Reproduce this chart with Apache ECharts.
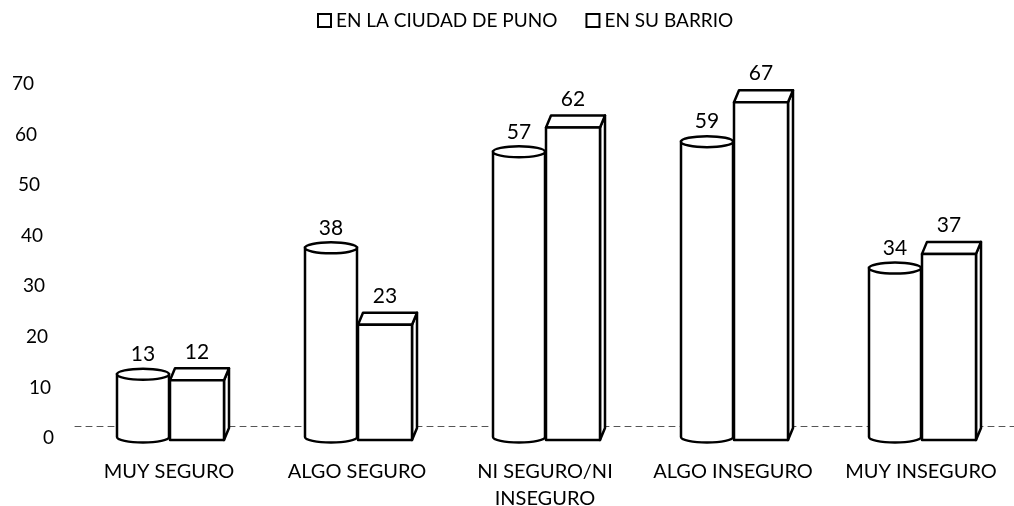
<!DOCTYPE html>
<html><head><meta charset="utf-8">
<script src="https://cdn.jsdelivr.net/npm/echarts@6/dist/echarts.min.js"></script>
<style>html,body{margin:0;padding:0;background:#fff}#c{width:1014px;height:506px}</style>
</head><body><div id="c"></div>
<script>
const categories = ['MUY SEGURO', 'ALGO SEGURO', 'NI SEGURO/NI\nINSEGURO', 'ALGO INSEGURO', 'MUY INSEGURO'];
const seriesNames = ['EN LA CIUDAD DE PUNO', 'EN SU BARRIO'];
const ciudadValues = [13, 38, 57, 59, 34];
const barrioValues = [12, 23, 62, 67, 37];
const yTicks = [0, 10, 20, 30, 40, 50, 60, 70];

const FONT = 'Lato, "Open Sans", sans-serif';
const chart = echarts.init(document.getElementById('c'), null, {renderer: 'canvas'});

function cylinder(params, api) {
  const i = api.value(0), v = api.value(1);
  const top = api.coord([i, v]), base = api.coord([i, 0]);
  const rx = 26, ry = 5.5;
  const cx = top[0] - rx;
  const l = cx - rx, r = cx + rx;
  const t = top[1] + 2, b = base[1] - 1;
  const body = `M${l},${t} L${l},${b} A${rx},${ry} 0 0 0 ${r},${b} L${r},${t} Z`;
  const cap = `M${l},${t} A${rx},${ry} 0 0 1 ${r},${t} A${rx},${ry} 0 0 1 ${l},${t} Z`;
  return {
    type: 'group',
    children: [
      {type: 'path', shape: {pathData: body}, style: {fill: '#fff', stroke: '#000', lineWidth: 2.5}},
      {type: 'path', shape: {pathData: cap}, style: {fill: '#fff', stroke: '#000', lineWidth: 2.5}},
      {type: 'text', style: {text: String(v), x: cx, y: t - ry - 4, align: 'center', verticalAlign: 'bottom',
        fontSize: 21, fontFamily: FONT, fill: '#000'}}
    ]
  };
}

function box(params, api) {
  const i = api.value(0), v = api.value(1);
  const top = api.coord([i, v]), base = api.coord([i, 0]);
  const w = 54, dx = 5, dy = -12;
  const l = top[0] + 1, r = l + w, t = top[1] + 3, b = base[1] + 2;
  const st = {fill: '#fff', stroke: '#000', lineWidth: 2.5, lineJoin: 'round'};
  return {
    type: 'group',
    children: [
      {type: 'polygon', shape: {points: [[r, t], [r + dx, t + dy], [r + dx, b + dy], [r, b]]}, style: st},
      {type: 'polygon', shape: {points: [[l, t], [l + dx, t + dy], [r + dx, t + dy], [r, t]]}, style: st},
      {type: 'rect', shape: {x: l, y: t, width: w, height: b - t}, style: st},
      {type: 'text', style: {text: String(v), x: l + w / 2, y: t + dy - 6, align: 'center', verticalAlign: 'bottom',
        fontSize: 21, fontFamily: FONT, fill: '#000'}}
    ]
  };
}

const rich = {};
yTicks.forEach(v => {
  rich['r' + v] = {fontSize: 19, fontFamily: FONT, color: '#000', padding: [0, Math.round(20 * v / 70), 0, 0]};
});

chart.setOption({
  animation: false,
  backgroundColor: '#fff',
  legend: {
    data: seriesNames, top: 6, left: 312, icon: 'rect', itemWidth: 13, itemHeight: 13, itemGap: 28,
    itemStyle: {color: '#fff', borderColor: '#000', borderWidth: 2},
    textStyle: {fontSize: 19, fontFamily: FONT, color: '#000'}
  },
  grid: {left: 75, top: 84, width: 940, height: 354, containLabel: false, outerBoundsMode: 'none'},
  xAxis: {
    type: 'category', data: categories, offset: -12,
    axisTick: {show: false},
    axisLine: {lineStyle: {color: '#555', width: 1, type: [6, 5]}},
    axisLabel: {margin: 32, fontSize: 20, lineHeight: 27, fontFamily: FONT, color: '#000', interval: 0}
  },
  yAxis: {
    type: 'value', min: 0, max: 70, interval: 10,
    axisLine: {show: false}, axisTick: {show: false}, splitLine: {show: false},
    axisLabel: {margin: 21, formatter: v => `{r${v}|${v}}`, rich: rich}
  },
  series: [
    {name: seriesNames[0], type: 'custom', renderItem: cylinder, clip: false,
     itemStyle: {color: '#fff', borderColor: '#000'},
     encode: {x: 0, y: 1}, data: ciudadValues.map((v, i) => [i, v])},
    {name: seriesNames[1], type: 'custom', renderItem: box, clip: false,
     itemStyle: {color: '#fff', borderColor: '#000'},
     encode: {x: 0, y: 1}, data: barrioValues.map((v, i) => [i, v])}
  ]
});
</script>
</body></html>
